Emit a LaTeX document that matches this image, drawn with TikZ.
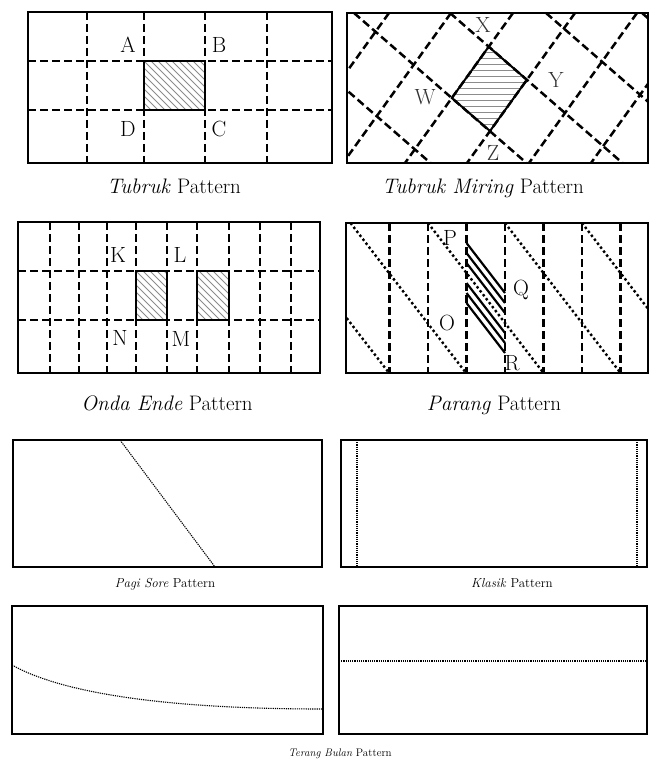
\documentclass[tikz,border=0pt]{standalone}
\usetikzlibrary{calc,positioning}

\begin{document}
\begin{tikzpicture}[x=1pt, y=-1pt,
  frame/.style={line width=2.6pt},
  thinframe/.style={line width=1.6pt},
  gridline/.style={line width=2.5pt, dash pattern=on 8pt off 4pt},
  dotline/.style={line width=2.4pt, dash pattern=on 2.4pt off 2.6pt},
  fineline/.style={line width=1.1pt, dash pattern=on 1.2pt off 1pt},
  hatch/.style={line width=0.8pt, black!45},
  stripe/.style={line width=2.2pt},
  lbl/.style={font=\fontsize{22}{24}\selectfont, inner sep=0pt},
  ttl/.style={font=\fontsize{21}{23}\selectfont, inner sep=0pt, anchor=base},
  smallttl/.style={font=\fontsize{13}{14}\selectfont, inner sep=0pt, anchor=base}]
\useasboundingbox (0,0) rectangle (649,767);

% Tubruk
\begin{scope}
\clip (144,61) rectangle (205,110);
\foreach \x in {95,102,...,205} \draw[hatch] (\x,61) -- ++(49,49);
\end{scope}
\foreach \x in {87,144,205,267} \draw[gridline] (\x,12) -- (\x,163);
\foreach \y in {61,110} \draw[gridline] (28,\y) -- (332,\y);
\draw[frame] (144,61) rectangle (205,110);
\draw[frame] (28,12) rectangle (332,163);
\node[lbl] (A) at (128,45) {A};
\node[lbl] (B) at (219,45) {B};
\node[lbl] (C) at (219,129) {C};
\node[lbl] (D) at (128,129) {D};
\node[ttl] (tubruk) at (174,194) {\textit{Tubruk} Pattern};

% Tubruk Miring
\coordinate (cX) at (488.7,46.7);
\coordinate (cY) at (526.9,79.8);
\coordinate (cZ) at (490,131);
\coordinate (cW) at (451.8,98);
\begin{scope}
\clip (cX) -- (cY) -- (cZ) -- (cW) -- cycle;
\foreach \y in {40,46,...,136} \draw[hatch] (440,\y) -- (540,\y);
\end{scope}
\begin{scope}
\clip (347,13) rectangle (648,163);
\foreach \a in {389,451,...,699} \draw[gridline] (\a,13) -- ++(-108,150);
\foreach \b in {258,354,...,642} \draw[gridline] (\b,13) -- ++(172.5,150);
\end{scope}
\draw[line width=2pt] (cX) -- (cY) -- (cZ) -- (cW) -- cycle;
\draw[frame] (347,13) rectangle (648,163);
\node[lbl, text=black!80] (X) at (483,25) {X};
\node[lbl, text=black!80] (Y) at (556,80) {Y};
\node[lbl, text=black!80] (W) at (425,97) {W};
\node[lbl, text=black!80] (Z) at (493,153) {Z};
\node[ttl] (miring) at (483,194) {\textit{Tubruk Miring} Pattern};

% Onda Ende
\begin{scope}
\clip (136,271) rectangle (167,320) (197,271) rectangle (229,320);
\foreach \x in {80,87,...,230} \draw[hatch] (\x,271) -- ++(49,49);
\end{scope}
\foreach \x in {50,79,107,136,167,197,229,260,291} \draw[gridline] (\x,222) -- (\x,373);
\foreach \y in {271,320} \draw[gridline] (18,\y) -- (320,\y);
\draw[frame] (136,271) rectangle (167,320);
\draw[frame] (197,271) rectangle (229,320);
\draw[frame] (18,222) rectangle (320,373);
\node[lbl] (K) at (118,255) {K};
\node[lbl] (L) at (180,255) {L};
\node[lbl] (M) at (181,339) {M};
\node[lbl] (N) at (120,338) {N};
\node[ttl] (onda) at (167,410) {\textit{Onda Ende} Pattern};

% Parang
\begin{scope}
\clip (346,223) rectangle (648,373);
\foreach \s in {273.5,350.5,428,505,582} \draw[dotline] (\s,223) -- ++(115.5,150);
\end{scope}
\foreach \x in {389.5,428,466.5,505,543.5,582,620.5} \draw[gridline] (\x,223) -- (\x,373);
\foreach \y in {243,253,263,283,293,303} \draw[stripe] (466.5,\y) -- ++(38.5,50);
\draw[frame] (346,223) rectangle (648,373);
\node[lbl] (P) at (450,238) {P};
\node[lbl] (Q) at (521,290) {Q};
\node[lbl] (R) at (512,363) {R};
\node[lbl] (O) at (447,323) {O};
\node[ttl] (parang) at (494,410) {\textit{Parang} Pattern};

% Pagi Sore
\draw[thinframe] (13,440) rectangle (322,567);
\draw[fineline] (120,440) -- (215,567);
\node[smallttl] (pagi) at (165,587) {\textit{Pagi Sore} Pattern};

% Klasik
\draw[thinframe] (341,440) rectangle (647,567);
\foreach \x in {357,637} \draw[fineline] (\x,440) -- (\x,567);
\node[smallttl] (klasik) at (512,587) {\textit{Klasik} Pattern};

% Terang Bulan
\draw[thinframe] (12,606) rectangle (323,734);
\draw[fineline] (12,665) .. controls (60,692) and (160,709) .. (323,709);
\draw[thinframe] (339,606) rectangle (647,734);
\draw[fineline] (339,661) -- (647,661);
\node[smallttl, font=\fontsize{11}{12}\selectfont] (terang) at (340,756) {\textit{Terang Bulan} Pattern};
\end{tikzpicture}
\end{document}
